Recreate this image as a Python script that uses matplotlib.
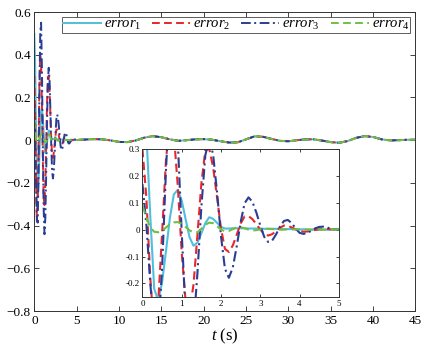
"""
Tracking errors error_1 ... error_4 over time, with a zoomed inset of the first 5 s.
"""

import numpy as np
import matplotlib
matplotlib.use("Agg")
import matplotlib.pyplot as plt

plt.rcParams["font.family"] = ["Liberation Serif", "DejaVu Serif"]
plt.rcParams["mathtext.fontset"] = "custom"
plt.rcParams["mathtext.rm"] = "Liberation Serif"
plt.rcParams["mathtext.it"] = "Liberation Serif:italic"

# ── Data ─────────────────────────────────────────────────────────
t_fast = np.linspace(0, 5, 51)          # 0.1 s samples over the transient
t_slow = np.arange(6, 46)               # 1 s samples afterwards

err1_fast = [0.50, 0.36, 0.05, -0.22, -0.264, -0.197, -0.079, 0.045, 0.131, 0.148,
             0.108, 0.038, -0.029, -0.060, -0.048, -0.014, 0.024, 0.046, 0.040, 0.025,
             0.010, 0.004, 0.004, 0.005, 0.005, 0.005, 0.005, 0.004, 0.004, 0.004,
             0.004, 0.003, 0.003, 0.003, 0.003, 0.002, 0.002, 0.002, 0.002, 0.001,
             0.001, 0.001, 0.001, 0.000, 0.000, 0.000, 0.000, 0.000, 0.000, 0.001, 0.001]
err2_fast = [0.30, 0.12, -0.18, -0.38, -0.275, -0.015, 0.261, 0.406, 0.355, 0.161,
             -0.085, -0.268, -0.304, -0.204, -0.020, 0.172, 0.294, 0.301, 0.231, 0.119,
             0.004, -0.072, -0.083, -0.059, -0.019, 0.023, 0.049, 0.050, 0.039, 0.020,
             0.000, -0.016, -0.022, -0.017, -0.006, 0.007, 0.015, 0.014, 0.008, 0.001,
             -0.005, -0.008, -0.007, -0.004, -0.001, 0.001, 0.002, 0.002, 0.001, 0.001, 0.001]
err3_fast = [0.17, 0.02, -0.20, -0.37, -0.386, -0.145, 0.225, 0.507, 0.550, 0.330,
             -0.011, -0.318, -0.440, -0.362, -0.161, 0.085, 0.276, 0.339, 0.278, 0.138,
             -0.025, -0.146, -0.179, -0.141, -0.062, 0.028, 0.098, 0.120, 0.103, 0.063,
             0.015, -0.027, -0.046, -0.041, -0.018, 0.011, 0.032, 0.036, 0.024, 0.004,
             -0.012, -0.016, -0.012, -0.004, 0.005, 0.010, 0.011, 0.008, 0.003, 0.001, 0.001]
err4_fast = [0.090, 0.045, 0.008, -0.008, -0.010, -0.004, 0.008, 0.020, 0.027, 0.028,
             0.022, 0.010, -0.003, -0.010, -0.010, 0.003, 0.018, 0.026, 0.024, 0.013,
             0.000, -0.006, -0.005, 0.002, 0.008, 0.009, 0.005, 0.000, -0.003, -0.002,
             0.001, 0.003, 0.003, 0.002, 0.001, 0.000, 0.000, 0.001, 0.001, 0.001,
             0.001, 0.000, 0.000, 0.000, 0.000, 0.000, 0.000, 0.000, 0.001, 0.001, 0.001]

# slow residual oscillation shared by all four errors after the transient
err_slow = [0.003, 0.005, 0.004, -0.001, -0.008, -0.009, -0.001, 0.012, 0.019, 0.014,
            0.004, -0.003, 0.000, 0.004, 0.005, 0.002, -0.005, -0.011, -0.010, 0.004,
            0.018, 0.016, 0.006, -0.003, -0.005, 0.000, 0.004, 0.004, -0.002, -0.009,
            -0.012, -0.004, 0.011, 0.019, 0.015, 0.004, -0.001, 0.000, 0.002, 0.002]

labels = [r"$error_1$", r"$error_2$", r"$error_3$", r"$error_4$"]
main_yticks = [-0.8, -0.6, -0.4, -0.2, 0, 0.2, 0.4, 0.6]
main_yticklabels = ["\u22120.8", "\u22120.6", "\u22120.4", "\u22120.2", "0", "0.2", "0.4", "0.6"]
inset_yticks = [-0.2, -0.1, 0, 0.1, 0.2, 0.3]
inset_yticklabels = ["-0.2", "-0.1", "0", "0.1", "0.2", "0.3"]

# ── Styling ──────────────────────────────────────────────────────
colors = ["#4fc0dc", "#e8262c", "#2a3d95", "#70bf45"]
dashes = [None, (4, 2.2), (5, 1.8, 1, 1.8), (4, 2.2)]

t = np.concatenate([t_fast, t_slow])
series = [np.concatenate([f, err_slow]) for f in (err1_fast, err2_fast, err3_fast, err4_fast)]


def draw_lines(ax, lw):
    handles = []
    for y, c, d, lab in zip(series, colors, dashes, labels):
        (ln,) = ax.plot(t, y, color=c, lw=lw, label=lab)
        if d is not None:
            ln.set_dashes(d)
        handles.append(ln)
    return handles


def box_ticks(ax, size):
    ax.tick_params(direction="in", top=True, right=True, length=size, width=0.6,
                   colors="#222222", labelcolor="black")
    for s in ax.spines.values():
        s.set_linewidth(0.7)
        s.set_color("#333333")


fig = plt.figure(figsize=(4.29, 3.48), dpi=100)

# ── Main axes ────────────────────────────────────────────────────
ax = fig.add_axes([0.080, 0.106, 0.8885, 0.8595])
handles = draw_lines(ax, 1.4)
ax.set_xlim(0, 45)
ax.set_ylim(-0.8, 0.6)
ax.set_xticks(np.arange(0, 46, 5))
ax.set_yticks(main_yticks)
ax.set_yticklabels(main_yticklabels)
box_ticks(ax, 3.5)
ax.tick_params(labelsize=9.5, pad=2.5)
ax.set_xlabel(r"$t$ (s)", fontsize=12, labelpad=0)

leg = ax.legend(handles=handles, loc="upper right", ncol=4, fontsize=10.5,
                frameon=True, fancybox=False, handlelength=2.6, handletextpad=0.2,
                columnspacing=0.75, borderpad=0.05, borderaxespad=0.35)
leg.get_frame().set_edgecolor("#333333")
leg.get_frame().set_linewidth(0.7)

# ── Inset: first 5 s ─────────────────────────────────────────────
axi = fig.add_axes([0.332, 0.147, 0.458, 0.425])
draw_lines(axi, 1.5)
axi.set_xlim(0, 5)
axi.set_ylim(-0.25, 0.3)
axi.set_xticks(np.arange(0, 6, 1))
axi.set_yticks(inset_yticks)
axi.set_yticklabels(inset_yticklabels)
box_ticks(axi, 2.5)
axi.tick_params(labelsize=6.5, pad=2)

fig.savefig("out.png", dpi=100, facecolor="white")
plt.close(fig)
